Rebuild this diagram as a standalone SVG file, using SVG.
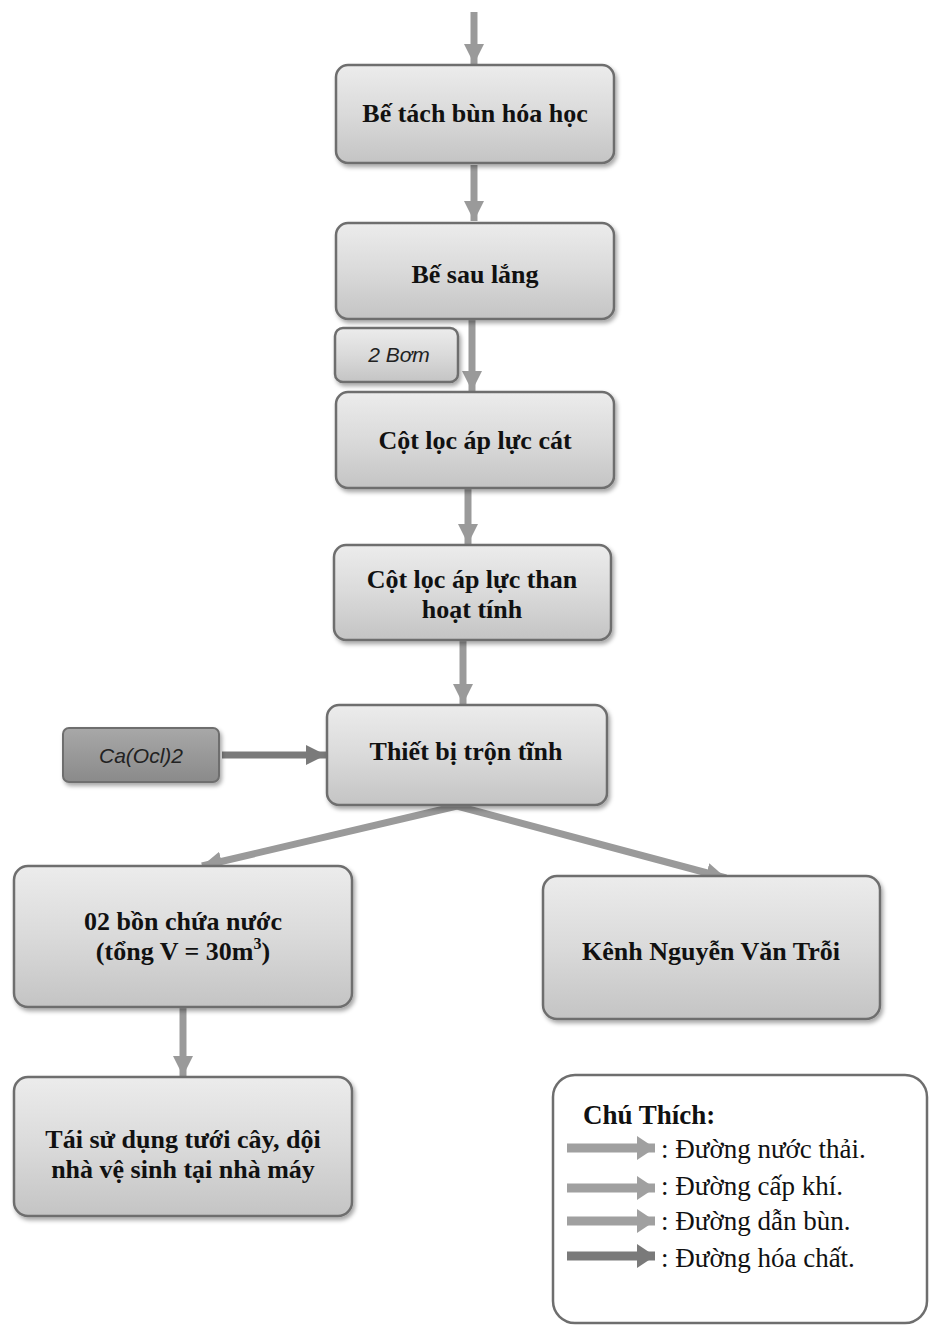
<svg xmlns="http://www.w3.org/2000/svg" width="931" height="1333" viewBox="0 0 931 1333">
<defs>
<linearGradient id="g" x1="0" y1="0" x2="0" y2="1">
<stop offset="0" stop-color="#ececec"/>
<stop offset="0.5" stop-color="#dadada"/>
<stop offset="1" stop-color="#c4c4c4"/>
</linearGradient>
<linearGradient id="gd" x1="0" y1="0" x2="0" y2="1">
<stop offset="0" stop-color="#a8a8a8"/>
<stop offset="1" stop-color="#8a8a8a"/>
</linearGradient>
<filter id="sh" x="-10%" y="-10%" width="125%" height="130%">
<feDropShadow dx="2" dy="3" stdDeviation="2" flood-color="#000" flood-opacity="0.35"/>
</filter>
<marker id="ah" markerUnits="userSpaceOnUse" markerWidth="22" markerHeight="22" viewBox="0 0 22 22" refX="20" refY="11" orient="auto">
<path d="M0,1 L20,11 L0,21 Z" fill="#9a9a9a"/>
</marker>
<marker id="ahd" markerUnits="userSpaceOnUse" markerWidth="22" markerHeight="22" viewBox="0 0 22 22" refX="20" refY="11" orient="auto">
<path d="M0,1 L20,11 L0,21 Z" fill="#7a7a7a"/>
</marker>
<marker id="lh" markerUnits="userSpaceOnUse" markerWidth="26" markerHeight="26" viewBox="0 0 26 26" refX="18" refY="13" orient="auto">
<path d="M0,1 L18,13 L0,25 Z" fill="#a0a0a0"/>
</marker>
<marker id="lhd" markerUnits="userSpaceOnUse" markerWidth="26" markerHeight="26" viewBox="0 0 26 26" refX="18" refY="13" orient="auto">
<path d="M0,1 L18,13 L0,25 Z" fill="#7a7a7a"/>
</marker>
</defs>
<style>
.box{fill:url(#g);stroke:#6e6e6e;stroke-width:2.5;filter:url(#sh)}
.dbox{fill:url(#gd);stroke:#6e6e6e;stroke-width:2;filter:url(#sh)}
.t{font-family:"Liberation Serif",serif;font-weight:bold;font-size:26px;fill:#111;text-anchor:middle}
.ti{font-family:"Liberation Sans",sans-serif;font-style:italic;font-size:21px;fill:#222;text-anchor:middle}
.lg{font-family:"Liberation Serif",serif;font-size:27px;fill:#111}
.a{stroke:#9a9a9a;stroke-width:7;fill:none;marker-end:url(#ah)}
.ad{stroke:#7a7a7a;stroke-width:7;fill:none;marker-end:url(#ahd)}
.la{stroke:#a0a0a0;stroke-width:9;fill:none;marker-end:url(#lh)}
.lad{stroke:#7a7a7a;stroke-width:9;fill:none;marker-end:url(#lhd)}
</style>

<g id="connectors">
<line class="a" x1="474" y1="12" x2="474" y2="64"/>
<line class="a" x1="474" y1="165" x2="474" y2="221"/>
<line class="a" x1="472" y1="320" x2="472" y2="391"/>
<line class="a" x1="468" y1="489" x2="468" y2="544"/>
<line class="a" x1="463" y1="641" x2="463" y2="704"/>
<line class="ad" x1="222" y1="755" x2="326" y2="755"/>
<line class="a" x1="457" y1="806" x2="202" y2="866"/>
<line class="a" x1="457" y1="806" x2="726" y2="878"/>
<line class="a" x1="183" y1="1008" x2="183" y2="1076"/>
</g>

<g id="n1">
<rect class="box" x="336" y="65" width="278" height="98" rx="12"/>
<text class="t" x="475" y="122" font-size="24">Bế tách bùn hóa học</text>
</g>
<g id="n2">
<rect class="box" x="336" y="223" width="278" height="96" rx="12"/>
<text class="t" x="475" y="283">Bế sau lắng</text>
</g>
<g id="pump">
<rect class="box" x="335" y="328" width="123" height="54" rx="8"/>
<text class="ti" x="399" y="362">2  Bơm</text>
</g>
<g id="n3">
<rect class="box" x="336" y="392" width="278" height="96" rx="12"/>
<text class="t" x="475" y="449">Cột lọc áp lực cát</text>
</g>
<g id="n4">
<rect class="box" x="334" y="545" width="277" height="95" rx="12"/>
<text class="t" x="472" y="588">Cột lọc áp lực than</text>
<text class="t" x="472" y="618">hoạt tính</text>
</g>
<g id="chem">
<rect class="dbox" x="63" y="728" width="156" height="54" rx="6"/>
<text class="ti" x="141" y="763" font-size="22">Ca(Ocl)2</text>
</g>
<g id="n5">
<rect class="box" x="327" y="705" width="280" height="100" rx="12"/>
<text class="t" x="466" y="760">Thiết bị trộn tĩnh</text>
</g>
<g id="n6">
<rect class="box" x="14" y="866" width="338" height="141" rx="14"/>
<text class="t" x="183" y="930">02 bồn chứa nước</text>
<text class="t" x="183" y="960">(tổng V = 30m<tspan font-size="16" dy="-11">3</tspan><tspan dy="11">)</tspan></text>
</g>
<g id="n7">
<rect class="box" x="543" y="876" width="337" height="143" rx="14"/>
<text class="t" x="711" y="960">Kênh Nguyễn Văn Trỗi</text>
</g>
<g id="n8">
<rect class="box" x="14" y="1077" width="338" height="139" rx="14"/>
<text class="t" x="183" y="1148">Tái sử dụng tưới cây, dội</text>
<text class="t" x="183" y="1178">nhà vệ sinh tại nhà máy</text>
</g>

<g id="legend">
<rect x="553" y="1075" width="374" height="248" rx="22" fill="#fff" stroke="#6e6e6e" stroke-width="2.5"/>
<text class="lg" x="583" y="1124" font-weight="bold" font-size="28">Chú Thích:</text>
<line class="la" x1="567" y1="1148" x2="655" y2="1148"/>
<text class="lg" x="661" y="1158">: Đường nước thải.</text>
<line class="la" x1="567" y1="1188" x2="655" y2="1188"/>
<text class="lg" x="661" y="1195">: Đường cấp khí.</text>
<line class="la" x1="567" y1="1221" x2="655" y2="1221"/>
<text class="lg" x="661" y="1230">: Đường dẫn bùn.</text>
<line class="lad" x1="567" y1="1256" x2="655" y2="1256"/>
<text class="lg" x="661" y="1267">: Đường hóa chất.</text>
</g>
</svg>
